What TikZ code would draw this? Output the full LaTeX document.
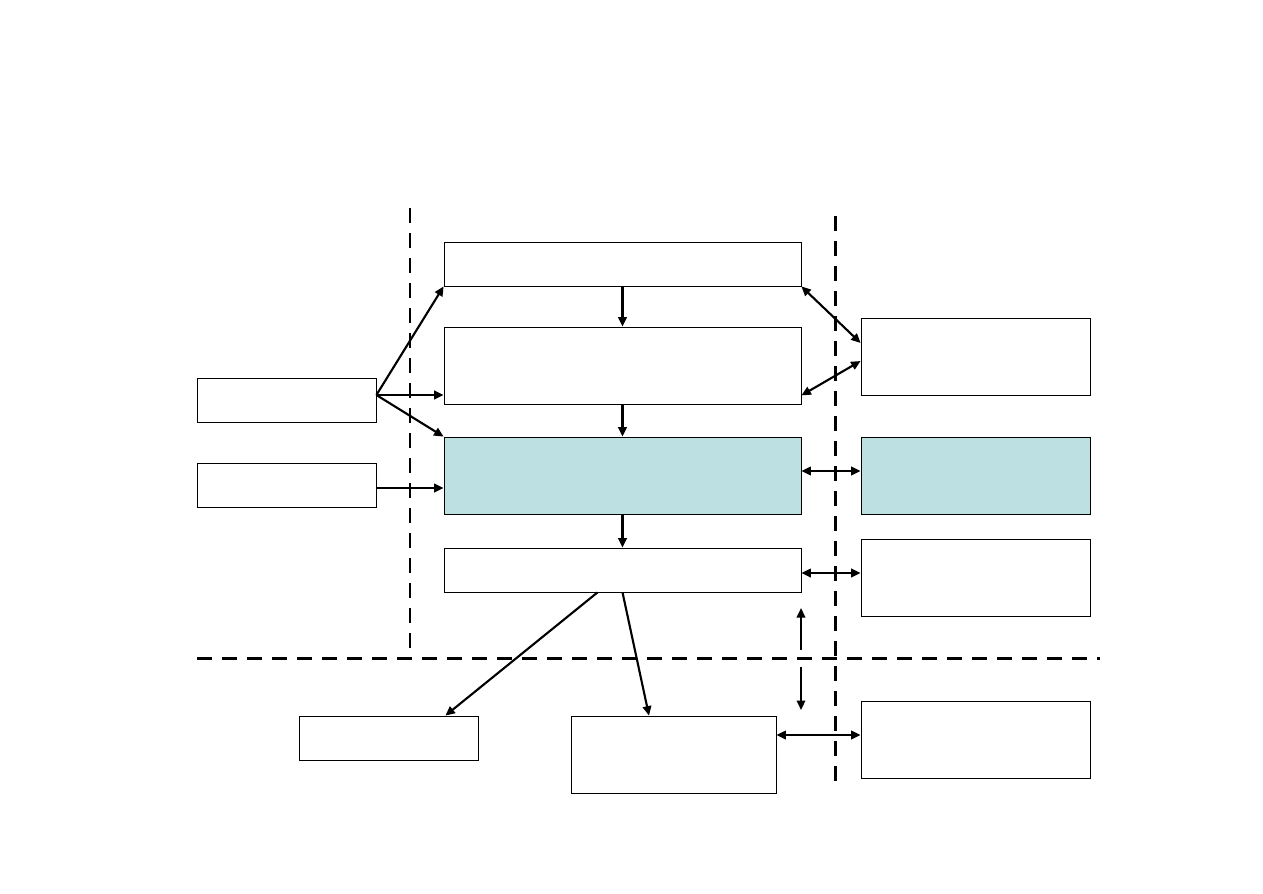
\documentclass[tikz,border=0pt]{standalone}
\usepackage{tikz}
\usetikzlibrary{arrows.meta,positioning,calc}
\definecolor{cazul}{HTML}{BDE1E2}
\tikzset{
  caja/.style={draw=black,fill=white,line width=0.45pt,inner sep=0pt},
  cajaz/.style={caja,fill=cazul},
  ancha/.style={caja,minimum width=71.4mm},
  flecha/.style={-{Triangle[length=1.9mm,width=1.7mm]},draw=black,line width=1.2pt},
  flechad/.style={flecha,{Triangle[length=1.9mm,width=1.7mm]}-{Triangle[length=1.9mm,width=1.7mm]}},
  corte/.style={draw=black,line width=1.7pt,dash pattern=on 3mm off 2mm},
}
\begin{document}
\begin{tikzpicture}[x=1cm,y=1cm]
\useasboundingbox (0,0) rectangle (25.26,-17.86);

% bloque central
\node[ancha,minimum height=8.8mm] (sup) at (12.45,-5.28) {};
\node[ancha,minimum height=15.4mm] (seg) at (12.45,-7.31) {};
\node[ancha,cajaz,minimum height=15.4mm] (cen) at (12.45,-9.51) {};
\node[ancha,minimum height=8.8mm] (inf) at (12.45,-11.40) {};

% entradas
\node[caja,minimum width=35.8mm,minimum height=8.8mm] (e1) at (5.73,-8.00) {};
\node[caja,minimum width=35.8mm,minimum height=8.8mm] (e2) at (5.73,-9.70) {};

% lado derecho
\node[caja,minimum width=45.8mm,minimum height=15.4mm] (d1) at (19.51,-7.13) {};
\node[cajaz,minimum width=45.8mm,minimum height=15.4mm] (d2) at (19.51,-9.51) {};
\node[caja,minimum width=45.8mm,minimum height=15.4mm] (d3) at (19.51,-11.55) {};
\node[caja,minimum width=45.8mm,minimum height=15.4mm] (d4) at (19.51,-14.79) {};

% salidas
\node[caja,minimum width=35.8mm,minimum height=8.8mm] (s1) at (7.77,-14.76) {};
\node[caja,minimum width=41.0mm,minimum height=15.4mm] (s2) at (13.47,-15.09) {};

% cortes
\draw[corte] (8.20,-4.16) -- (8.20,-12.96);
\draw[corte] (16.70,-4.32) -- (16.70,-15.70);
\draw[corte] (3.94,-13.16) -- (22.00,-13.16);

% conexiones
\coordinate (o1) at ($(e1.east)+(0,0.1)$);
\coordinate (o2) at ($(e2.east)+(0,-0.06)$);
\draw[flecha] (o1) -- (sup.south west);
\draw[flecha] (o1) -- (o1 -| seg.west);
\draw[flecha] (o1) -- (cen.north west);
\draw[flecha] (o2) -- (o2 -| cen.west);

\draw[flecha] (sup) -- (seg);
\draw[flecha] (seg) -- (cen);
\draw[flecha] (cen) -- (inf);

\coordinate (c1) at ($(cen.east)+(0,0.09)$);
\coordinate (c2) at ($(inf.east)+(0,-0.06)$);
\coordinate (c3) at ($(d4.west)+(0,0.09)$);
\draw[flechad] (sup.south east) -- ($(d1.west)+(0,0.27)$);
\draw[flechad] ($(seg.south east)+(0,0.18)$) -- ($(d1.west)+(0,-0.09)$);
\draw[flechad] (c1) -- (c1 -| d2.west);
\draw[flechad] (c2) -- (c2 -| d3.west);
\draw[flechad] (s2.east |- c3) -- (c3);

\draw[flecha] ($(inf.south)+(-0.50,0)$) -- ($(s1.north east)+(-0.66,0)$);
\draw[flecha] (inf.south) -- ($(s2.north)+(-0.49,0)$);

\coordinate (va) at (16.02,-12.16);
\coordinate (vb) at (16.02,-14.20);
\draw[flecha] (16.02,-13.00) -- (va);
\draw[flecha] (16.02,-13.34) -- (vb);

\end{tikzpicture}
\end{document}
